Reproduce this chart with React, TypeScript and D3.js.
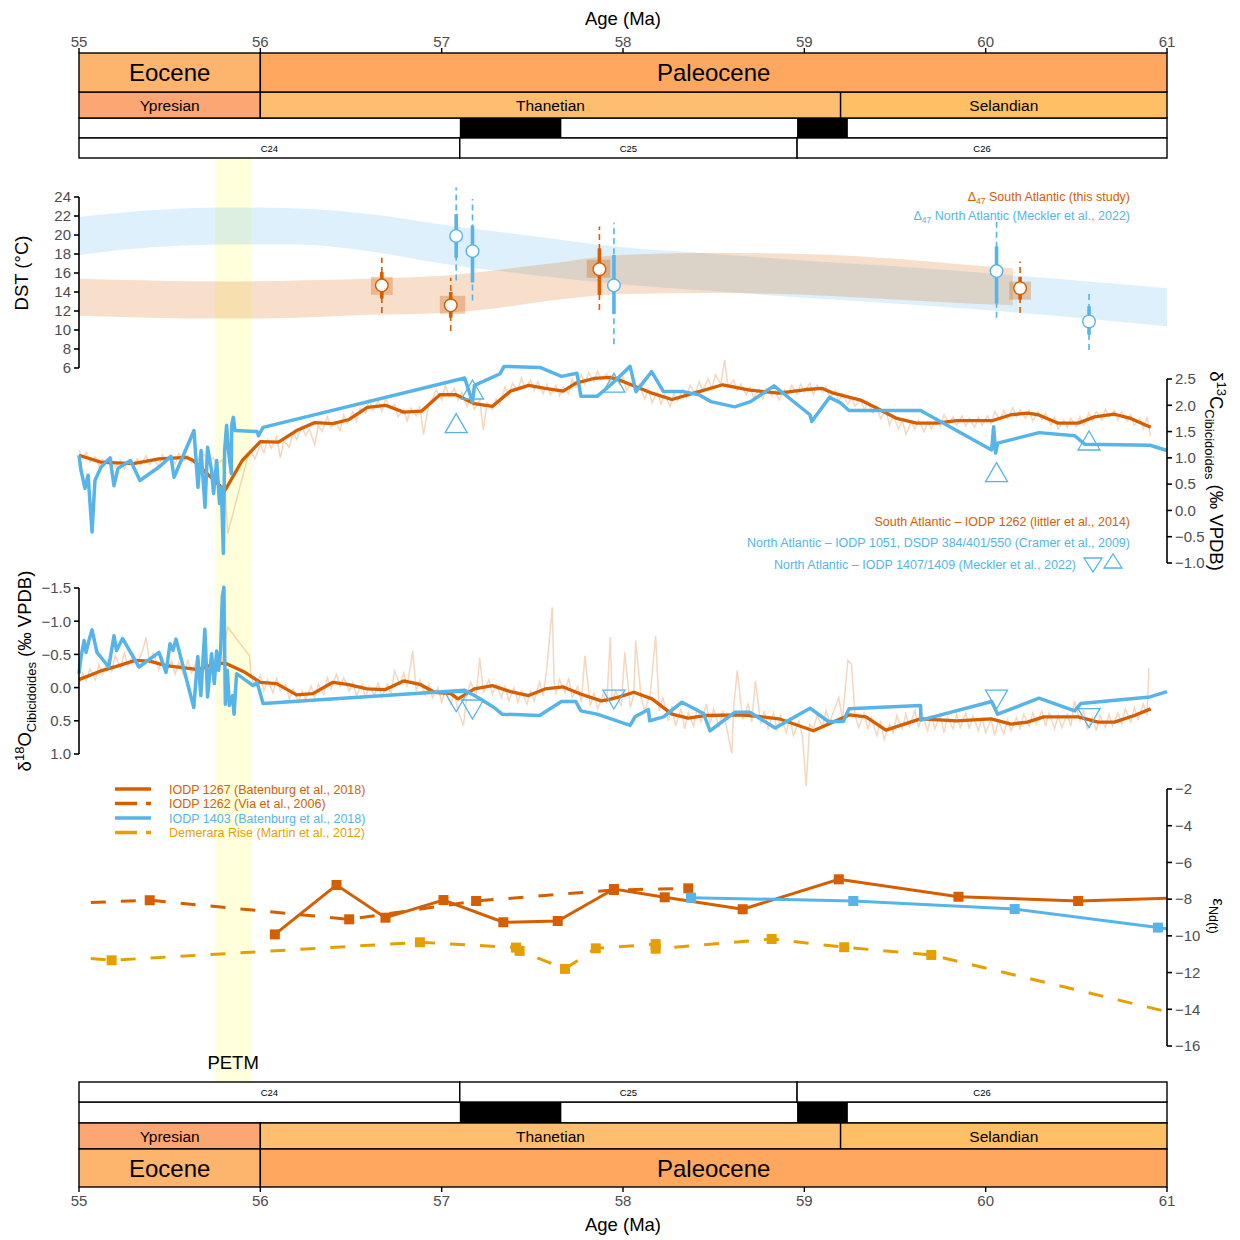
import React from "react";
import * as d3 from "d3";

type P = [number, number];

const FONT = "'Liberation Sans', Arial, Helvetica, sans-serif";
const ORANGE = "#D55E00";
const BLUE = "#56B4E9";
const YELLOW = "#E69F00";

// ---------- geological time scale ----------
const ageTicks = [55, 56, 57, 58, 59, 60, 61];
const epochNames = ["Eocene", "Paleocene"];
const epochBounds: P[] = [[55, 56], [56, 61]];
const epochColors = ["#FDB46C", "#FDA75F"];
const stageNames = ["Ypresian", "Thanetian", "Selandian"];
const stageBounds: P[] = [[55, 56], [56, 59.2], [59.2, 61]];
const stageColors = ["#FCA773", "#FDBF6F", "#FEBF65"];
const normalPolarity: P[] = [[57.1, 57.66], [58.96, 59.24]];
const chronNames = ["C24", "C25", "C26"];
const chronBounds: P[] = [[55, 57.1], [57.1, 58.96], [58.96, 61]];
const petm: P = [55.75, 55.95];

// ---------- DST (clumped isotopes) ----------
const dstTicks = [6, 8, 10, 12, 14, 16, 18, 20, 22, 24];
const northBandAge = [55.0, 55.4, 55.8, 56.2, 56.6, 57.0, 57.5, 58.0, 58.5, 59.0, 59.5, 60.0, 60.5, 61.0];
const northBandHi = [21.9, 22.6, 22.9, 22.8, 22.2, 21.1, 19.9, 18.7, 18.0, 17.3, 16.7, 16.0, 15.2, 14.4];
const northBandLo = [17.9, 18.7, 19.0, 19.0, 18.3, 17.0, 15.8, 14.8, 14.1, 13.4, 12.8, 12.1, 11.3, 10.4];
const southBandAge = [55.0, 55.4, 55.8, 56.2, 56.6, 57.0, 57.3, 57.6, 58.0, 58.5, 59.0, 59.5, 60.0, 60.15];
const southBandHi = [15.4, 15.2, 15.1, 15.2, 15.4, 15.7, 16.3, 17.0, 17.9, 18.1, 18.0, 17.5, 16.7, 16.5];
const southBandLo = [11.5, 11.3, 11.2, 11.3, 11.6, 11.8, 12.3, 13.1, 13.8, 13.9, 13.7, 13.2, 12.7, 12.6];

const dstSouthAge = [56.67, 57.05, 57.87, 60.19];
const dstSouthT = [14.7, 12.6, 16.4, 14.4];
const dstSouthCI68: P[] = [[13.3, 16.1], [11.3, 14.0], [13.7, 18.6], [13.2, 15.6]];
const dstSouthCI95: P[] = [[11.8, 17.6], [9.9, 15.5], [12.1, 20.9], [11.8, 17.2]];
const dstSouthAgeBox: P[] = [[56.61, 56.73], [56.99, 57.13], [57.8, 57.93], [60.13, 60.25]];
const dstSouthTBox: P[] = [[13.7, 15.6], [11.7, 13.6], [15.5, 17.4], [13.2, 15.1]];

const dstNorthAge = [57.08, 57.17, 57.95, 60.06, 60.57];
const dstNorthT = [19.9, 18.3, 14.7, 16.2, 10.9];
const dstNorthCI68: P[] = [[17.6, 22.2], [15.0, 21.0], [11.7, 17.9], [12.8, 18.8], [9.5, 12.5]];
const dstNorthCI95: P[] = [[15.2, 25.0], [13.1, 23.8], [8.5, 21.3], [11.3, 21.6], [7.9, 14.0]];

// ---------- benthic d13C ----------
const d13cTicks = [-1, -0.5, 0, 0.5, 1, 1.5, 2, 2.5];
const d13cSouthSmooth: P[] = [
  [55.0, 1.05], [55.12, 0.92], [55.3, 0.89], [55.44, 0.98], [55.59, 1.01], [55.63, 0.95], [55.805, 0.38],
  [55.9, 0.95], [56.0, 1.31], [56.1, 1.3], [56.2, 1.52], [56.3, 1.67], [56.4, 1.65], [56.49, 1.73],
  [56.59, 1.96], [56.69, 2.0], [56.79, 1.87], [56.89, 1.89], [56.99, 2.2], [57.08, 2.2], [57.18, 2.03],
  [57.28, 1.98], [57.38, 2.27], [57.48, 2.38], [57.57, 2.32], [57.67, 2.27], [57.74, 2.42], [57.84, 2.51],
  [57.93, 2.53], [57.98, 2.48], [58.16, 2.23], [58.27, 2.11], [58.42, 2.26], [58.55, 2.39], [58.7, 2.29],
  [58.86, 2.23], [59.01, 2.3], [59.1, 2.32], [59.16, 2.23], [59.31, 2.1], [59.42, 1.91], [59.51, 1.75],
  [59.62, 1.66], [59.73, 1.66], [59.84, 1.71], [60.04, 1.71], [60.14, 1.82], [60.23, 1.85], [60.29, 1.82],
  [60.4, 1.66], [60.51, 1.66], [60.6, 1.78], [60.71, 1.83], [60.8, 1.75], [60.91, 1.58]
];
const d13cNorth: P[] = [
  [55.0, 1.05], [55.011, 0.76], [55.033, 0.42], [55.05, 0.67], [55.072, -0.41], [55.088, 0.57], [55.121, 0.82],
  [55.171, 1.0], [55.193, 0.47], [55.215, 0.8], [55.284, 0.95], [55.336, 0.57], [55.447, 0.84], [55.507, 1.03],
  [55.524, 0.63], [55.634, 1.52], [55.656, 0.44], [55.673, 1.14], [55.695, 0.06], [55.709, 1.2], [55.731, 0.76],
  [55.742, 0.32], [55.759, 0.95], [55.775, 0.13], [55.785, 0.44], [55.796, -0.82], [55.803, 1.14], [55.814, 1.62],
  [55.824, 1.14], [55.84, 0.7], [55.842, 1.62], [55.851, 1.77], [55.86, 1.52], [55.982, 1.5], [55.99, 1.42],
  [56.015, 1.58], [57.127, 2.52], [57.17, 2.06], [57.181, 2.38], [57.322, 2.6], [57.344, 2.74], [57.542, 2.72],
  [57.661, 2.55], [57.746, 2.61], [57.768, 2.17], [57.857, 2.17], [57.939, 2.41], [58.039, 2.74], [58.072, 2.26],
  [58.158, 2.64], [58.223, 2.26], [58.331, 2.26], [58.419, 2.2], [58.485, 2.07], [58.616, 1.97], [58.703, 2.07],
  [58.833, 2.37], [59.031, 1.82], [59.041, 1.69], [59.139, 2.15], [59.202, 2.04], [59.246, 1.9], [59.641, 1.9],
  [60.033, 1.15], [60.044, 1.59], [60.055, 1.09], [60.066, 1.28], [60.294, 1.48], [60.491, 1.42], [60.546, 1.26],
  [60.906, 1.24], [61.0, 1.14]
];
const d13cMecklerAge = [57.08, 57.17, 57.95, 60.06, 60.57];
const d13cMeckler = [1.66, 2.3, 2.43, 0.73, 1.33];
const d13cSouthRaw: P[] = [
  [55.0, 1.15], [55.02, 0.98], [55.04, 1.1], [55.06, 0.92], [55.09, 1.02], [55.11, 0.85], [55.13, 0.97], [55.16, 0.88],
  [55.18, 1.0], [55.2, 0.82], [55.23, 0.95], [55.25, 0.78], [55.27, 0.92], [55.3, 0.84], [55.32, 0.98], [55.34, 0.86],
  [55.37, 1.04], [55.39, 0.88], [55.41, 0.97], [55.44, 0.85], [55.46, 1.06], [55.48, 0.92], [55.51, 1.02], [55.53, 0.88],
  [55.55, 1.08], [55.58, 0.95], [55.6, 1.04], [55.62, 0.9], [55.65, 1.02], [55.67, 0.92], [55.69, 1.06], [55.72, 0.95],
  [55.74, 1.0], [55.76, 0.88], [55.79, 0.96], [55.8, 0.7], [55.82, -0.44], [55.93, 1.01], [55.95, 1.12], [55.97, 0.98],
  [56.0, 1.25], [56.02, 1.1], [56.04, 1.35], [56.06, 1.18], [56.09, 1.4], [56.11, 1.0], [56.13, 1.32], [56.16, 1.2],
  [56.18, 1.48], [56.2, 1.35], [56.23, 1.6], [56.25, 1.42], [56.27, 1.55], [56.3, 1.25], [56.32, 1.62], [56.34, 1.5],
  [56.37, 1.78], [56.39, 1.58], [56.41, 1.7], [56.44, 1.52], [56.46, 1.82], [56.48, 1.65], [56.51, 1.88], [56.53, 1.7],
  [56.55, 1.95], [56.58, 1.85], [56.6, 2.1], [56.62, 1.9], [56.65, 2.08], [56.67, 1.88], [56.69, 2.12], [56.72, 1.95],
  [56.74, 2.02], [56.76, 1.78], [56.79, 1.92], [56.81, 1.7], [56.83, 1.95], [56.86, 1.8], [56.88, 1.98], [56.9, 1.44],
  [56.93, 2.05], [56.95, 2.12], [56.97, 2.3], [57.0, 2.1], [57.02, 2.38], [57.04, 2.18], [57.07, 2.32], [57.09, 2.1],
  [57.11, 2.25], [57.14, 1.98], [57.16, 2.15], [57.18, 1.92], [57.21, 2.1], [57.23, 1.53], [57.25, 2.05], [57.28, 1.92],
  [57.3, 2.12], [57.32, 2.02], [57.35, 2.35], [57.37, 2.18], [57.39, 2.42], [57.42, 2.28], [57.44, 2.52], [57.46, 2.32],
  [57.49, 2.48], [57.51, 2.28], [57.53, 2.45], [57.56, 2.22], [57.58, 2.4], [57.6, 2.2], [57.63, 2.38], [57.65, 2.18],
  [57.67, 2.35], [57.7, 2.22], [57.72, 2.5], [57.74, 2.35], [57.77, 2.58], [57.79, 2.4], [57.81, 2.62], [57.84, 2.45],
  [57.86, 2.65], [57.88, 2.48], [57.91, 2.6], [57.93, 2.42], [57.95, 2.58], [57.98, 2.4], [58.0, 2.55], [58.02, 2.28],
  [58.05, 2.45], [58.07, 2.25], [58.09, 2.4], [58.12, 2.12], [58.14, 2.3], [58.16, 2.05], [58.19, 2.25], [58.21, 2.02],
  [58.23, 2.2], [58.26, 1.98], [58.28, 2.22], [58.3, 2.08], [58.33, 2.3], [58.35, 2.15], [58.37, 2.38], [58.4, 2.22],
  [58.42, 2.45], [58.44, 2.28], [58.47, 2.5], [58.49, 2.32], [58.51, 2.58], [58.54, 2.4], [58.56, 2.86], [58.58, 2.35],
  [58.61, 2.48], [58.63, 2.28], [58.65, 2.4], [58.68, 2.2], [58.7, 2.35], [58.72, 2.15], [58.75, 2.3], [58.77, 2.12],
  [58.79, 2.32], [58.82, 2.18], [58.84, 2.28], [58.86, 2.1], [58.89, 2.3], [58.91, 2.18], [58.93, 2.38], [58.96, 2.22],
  [58.98, 2.4], [59.0, 2.25], [59.03, 2.42], [59.05, 2.2], [59.07, 2.38], [59.1, 2.25], [59.12, 2.35], [59.14, 2.15],
  [59.17, 2.28], [59.19, 2.08], [59.21, 2.22], [59.24, 2.02], [59.26, 2.15], [59.28, 1.98], [59.31, 2.12], [59.33, 1.92],
  [59.35, 2.05], [59.38, 1.85], [59.4, 1.98], [59.42, 1.75], [59.45, 1.9], [59.47, 1.62], [59.49, 1.8], [59.52, 1.55],
  [59.54, 1.72], [59.56, 1.45], [59.59, 1.68], [59.61, 1.55], [59.63, 1.72], [59.66, 1.5], [59.68, 1.68], [59.7, 1.55],
  [59.73, 1.75], [59.75, 1.6], [59.77, 1.82], [59.8, 1.65], [59.82, 1.78], [59.84, 1.62], [59.87, 1.8], [59.89, 1.6],
  [59.91, 1.75], [59.94, 1.58], [59.96, 1.78], [59.98, 1.62], [60.01, 1.8], [60.03, 1.65], [60.05, 1.88], [60.08, 1.72],
  [60.1, 1.9], [60.12, 1.75], [60.15, 1.95], [60.17, 1.78], [60.19, 1.92], [60.22, 1.75], [60.24, 1.9], [60.26, 1.7],
  [60.29, 1.88], [60.31, 1.72], [60.33, 1.85], [60.36, 1.62], [60.38, 1.78], [60.4, 1.55], [60.43, 1.72], [60.45, 1.58],
  [60.47, 1.75], [60.5, 1.6], [60.52, 1.78], [60.54, 1.62], [60.57, 1.85], [60.59, 1.7], [60.61, 1.88], [60.64, 1.72],
  [60.66, 1.92], [60.68, 1.78], [60.71, 1.9], [60.73, 1.72], [60.75, 1.88], [60.78, 1.7], [60.8, 1.82], [60.82, 1.62],
  [60.85, 1.75], [60.87, 1.55], [60.89, 1.78], [60.91, 1.42]
];

// ---------- benthic d18O ----------
const d18oTicks = [-1.5, -1, -0.5, 0, 0.5, 1];
const d18oSouthSmooth: P[] = [
  [55.0, -0.12], [55.13, -0.26], [55.22, -0.33], [55.31, -0.41], [55.39, -0.4], [55.48, -0.33], [55.57, -0.3],
  [55.66, -0.27], [55.74, -0.35], [55.805, -0.37], [55.915, -0.23], [56.0, -0.08], [56.09, -0.06], [56.2, 0.11],
  [56.29, 0.09], [56.4, -0.08], [56.48, -0.05], [56.59, 0.02], [56.69, 0.03], [56.79, -0.1], [56.88, -0.05],
  [56.96, 0.07], [57.05, 0.09], [57.09, 0.17], [57.18, 0.02], [57.28, -0.03], [57.38, 0.06], [57.48, 0.12],
  [57.57, 0.02], [57.67, -0.01], [57.77, 0.1], [57.88, 0.2], [57.92, 0.18], [57.98, 0.14], [58.06, 0.07],
  [58.16, 0.17], [58.27, 0.4], [58.36, 0.46], [58.46, 0.42], [58.64, 0.41], [58.7, 0.42], [58.86, 0.47],
  [59.05, 0.65], [59.25, 0.41], [59.34, 0.44], [59.45, 0.64], [59.64, 0.47], [59.84, 0.5], [60.03, 0.47],
  [60.14, 0.55], [60.23, 0.52], [60.32, 0.44], [60.51, 0.44], [60.62, 0.52], [60.71, 0.52], [60.82, 0.42],
  [60.91, 0.32]
];
const d18oNorth: P[] = [
  [55.0, -0.21], [55.011, -0.46], [55.028, -0.71], [55.039, -0.53], [55.055, -0.71], [55.072, -0.87], [55.099, -0.53],
  [55.164, -0.31], [55.193, -0.78], [55.207, -0.56], [55.24, -0.74], [55.331, -0.31], [55.441, -0.53], [55.48, -0.23],
  [55.502, -0.66], [55.518, -0.56], [55.535, -0.73], [55.633, 0.3], [55.655, -0.47], [55.672, 0.12], [55.694, -0.88],
  [55.709, 0.14], [55.731, -0.51], [55.746, -0.06], [55.759, -0.55], [55.77, -0.26], [55.781, -0.55], [55.79, -1.36],
  [55.799, -1.51], [55.807, 0.25], [55.818, -0.26], [55.829, 0.27], [55.847, 0.12], [55.855, 0.4], [55.869, -0.21],
  [55.96, -0.03], [55.982, -0.08], [56.015, 0.24], [57.127, 0.04], [57.2, 0.15], [57.289, 0.3], [57.333, 0.4],
  [57.54, 0.42], [57.66, 0.21], [57.74, 0.21], [57.768, 0.35], [57.857, 0.4], [58.039, 0.57], [58.066, 0.44],
  [58.14, 0.33], [58.147, 0.5], [58.223, 0.44], [58.325, 0.22], [58.444, 0.39], [58.48, 0.65], [58.618, 0.37],
  [58.7, 0.37], [58.839, 0.61], [59.031, 0.31], [59.132, 0.51], [59.215, 0.51], [59.246, 0.32], [59.641, 0.27],
  [59.643, 0.49], [60.033, 0.21], [60.066, 0.4], [60.294, 0.16], [60.491, 0.35], [60.524, 0.24], [60.906, 0.14],
  [61.0, 0.06]
];
const d18oMecklerAge = [57.08, 57.17, 57.95, 60.06, 60.57];
const d18oMeckler = [0.22, 0.33, 0.18, 0.18, 0.46];
const d18oSouthRaw: P[] = [
  [55.0, -0.05], [55.02, -0.22], [55.04, -0.1], [55.06, -0.28], [55.09, -0.12], [55.11, -0.35], [55.13, -0.2], [55.16, -0.42],
  [55.18, -0.25], [55.2, -0.48], [55.23, -0.3], [55.25, -0.52], [55.27, -0.32], [55.3, -0.5], [55.32, -0.35], [55.35, -0.55],
  [55.37, -0.76], [55.39, -0.38], [55.41, -0.52], [55.44, -0.28], [55.46, -0.45], [55.48, -0.22], [55.51, -0.4], [55.53, -0.2],
  [55.55, -0.38], [55.58, -0.18], [55.6, -0.42], [55.62, -0.22], [55.65, -0.4], [55.67, -0.2], [55.69, -0.35], [55.72, -0.25],
  [55.74, -0.45], [55.76, -0.28], [55.79, -0.4], [55.82, -0.91], [55.94, -0.48], [55.95, -0.15], [55.97, -0.02], [56.0, -0.18],
  [56.02, 0.05], [56.04, -0.12], [56.07, 0.08], [56.09, -0.15], [56.11, 0.05], [56.14, -0.05], [56.16, 0.18], [56.18, 0.02],
  [56.21, 0.22], [56.23, 0.05], [56.25, 0.18], [56.28, -0.02], [56.3, 0.15], [56.32, -0.05], [56.35, 0.1], [56.37, -0.15],
  [56.39, 0.02], [56.42, -0.2], [56.44, -0.02], [56.46, -0.15], [56.49, 0.05], [56.51, -0.08], [56.53, 0.12], [56.56, -0.05],
  [56.58, 0.15], [56.6, -0.02], [56.63, 0.12], [56.65, -0.08], [56.67, 0.15], [56.7, -0.05], [56.72, 0.1], [56.74, -0.25],
  [56.77, -0.05], [56.79, -0.22], [56.81, -0.02], [56.84, -0.55], [56.86, 0.05], [56.88, -0.12], [56.91, 0.12], [56.93, -0.05],
  [56.95, 0.15], [56.98, 0.0], [57.0, 0.22], [57.02, 0.05], [57.05, 0.25], [57.07, 0.08], [57.09, 0.35], [57.12, 0.57],
  [57.14, 0.1], [57.16, -0.08], [57.19, 0.12], [57.21, -0.45], [57.23, 0.08], [57.26, -0.12], [57.28, 0.1], [57.3, -0.05],
  [57.33, 0.15], [57.35, -0.02], [57.37, 0.2], [57.4, 0.0], [57.42, 0.22], [57.44, 0.05], [57.47, 0.25], [57.49, 0.05],
  [57.51, 0.2], [57.54, -0.08], [57.56, 0.12], [57.58, -0.3], [57.61, -1.21], [57.62, -0.1], [57.63, 0.1], [57.65, -0.12],
  [57.68, 0.08], [57.7, -0.15], [57.72, 0.15], [57.75, -0.02], [57.77, 0.22], [57.79, -0.48], [57.82, 0.28], [57.84, 0.08],
  [57.86, 0.32], [57.89, 0.1], [57.91, 0.25], [57.93, -0.76], [57.94, 0.2], [57.96, 0.05], [57.99, 0.28], [58.01, -0.53],
  [58.04, 0.3], [58.06, 0.1], [58.07, -0.71], [58.1, 0.15], [58.12, 0.35], [58.15, 0.1], [58.18, -0.78], [58.2, 0.35],
  [58.22, 0.15], [58.25, 0.5], [58.27, 0.28], [58.29, 0.58], [58.32, 0.32], [58.34, 0.62], [58.36, 0.38], [58.39, 0.58],
  [58.41, 0.3], [58.43, 0.52], [58.46, 0.25], [58.48, 0.55], [58.5, 0.32], [58.53, 0.6], [58.55, 0.35], [58.57, 0.58],
  [58.6, 0.99], [58.61, 0.3], [58.63, -0.26], [58.66, 0.48], [58.69, 0.25], [58.71, 0.52], [58.73, -0.1], [58.76, 0.55],
  [58.78, 0.35], [58.8, 0.62], [58.83, 0.38], [58.85, 0.65], [58.87, 0.42], [58.9, 0.68], [58.92, 0.45], [58.94, 0.72],
  [58.97, 0.5], [58.99, 0.75], [59.01, 1.48], [59.03, 0.55], [59.05, 0.62], [59.07, 0.42], [59.1, 0.58], [59.12, 0.35],
  [59.14, 0.52], [59.17, 0.3], [59.19, 0.15], [59.21, 0.48], [59.24, -0.41], [59.26, -0.35], [59.28, 0.42], [59.3, 0.6],
  [59.33, 0.38], [59.35, 0.62], [59.37, 0.45], [59.4, 0.72], [59.42, 0.5], [59.44, 0.78], [59.47, 0.55], [59.49, 0.68],
  [59.51, 0.42], [59.54, 0.62], [59.56, 0.4], [59.58, 0.58], [59.61, 0.35], [59.63, 0.6], [59.65, 0.4], [59.68, 0.65],
  [59.7, 0.42], [59.72, 0.62], [59.75, 0.4], [59.77, 0.68], [59.79, 0.45], [59.82, 0.62], [59.84, 0.4], [59.86, 0.6],
  [59.89, 0.38], [59.91, 0.62], [59.93, 0.42], [59.96, 0.65], [59.98, 0.45], [60.0, 0.68], [60.03, 0.48], [60.05, 0.72],
  [60.07, 0.5], [60.1, 0.7], [60.12, 0.48], [60.14, 0.65], [60.17, 0.45], [60.19, 0.62], [60.21, 0.4], [60.24, 0.58],
  [60.26, 0.38], [60.28, 0.55], [60.31, 0.35], [60.33, 0.58], [60.35, 0.38], [60.38, 0.62], [60.4, 0.42], [60.42, 0.6],
  [60.45, 0.4], [60.47, 0.58], [60.49, 0.2], [60.52, 0.5], [60.54, 0.35], [60.56, 0.62], [60.59, 0.45], [60.61, 0.65],
  [60.63, 0.42], [60.66, 0.6], [60.68, 0.4], [60.7, 0.58], [60.73, 0.38], [60.75, 0.55], [60.77, 0.32], [60.8, 0.52],
  [60.82, 0.3], [60.84, 0.48], [60.87, 0.25], [60.89, 0.42], [60.9, -0.29]
];

// ---------- Nd isotopes ----------
const ndTicks = [-2, -4, -6, -8, -10, -12, -14, -16];
const nd1267: P[] = [
  [56.08, -9.92], [56.42, -7.23], [56.69, -9.01], [57.01, -8.05], [57.34, -9.26], [57.64, -9.19], [57.95, -7.45],
  [58.23, -7.9], [58.66, -8.55], [59.19, -6.92], [59.85, -7.87], [60.51, -8.1], [61.3, -7.86]
];
const nd1262: P[] = [[54.9, -8.24], [55.39, -8.06], [56.49, -9.1], [57.19, -8.1], [57.95, -7.5], [58.36, -7.41]];
const nd1403: P[] = [[58.375, -7.92], [59.27, -8.1], [60.16, -8.54], [60.95, -9.55], [61.2, -9.87]];
const ndDemerara: P[] = [
  [54.9, -11.08], [55.18, -11.33], [56.88, -10.35], [57.41, -10.64], [57.43, -10.82], [57.68, -11.8], [57.85, -10.68],
  [58.18, -10.45], [58.18, -10.7], [58.82, -10.17], [59.22, -10.62], [59.7, -11.04], [61.1, -14.37]
];

// ---------- scales ----------
const x = d3.scaleLinear().domain([55, 61]).range([79, 1167]);
const yDst = d3.scaleLinear().domain([6, 24]).range([368, 197]);
const yC = d3.scaleLinear().domain([-1, 2.5]).range([563, 379]);
const yO = d3.scaleLinear().domain([-1.5, 1]).range([588, 754]);
const yNd = d3.scaleLinear().domain([-2, -16]).range([789, 1046]);

const fmt1 = (v: number) => (v < 0 ? "\u2212" : "") + Math.abs(v).toFixed(1);
const fmt0 = (v: number) => (v < 0 ? "\u2212" : "") + Math.abs(v).toFixed(0);

const lineOf = (ys: d3.ScaleLinear<number, number>) =>
  d3.line<P>().x(d => x(d[0])).y(d => ys(d[1]));

const TICK_COLOR = "#4D4D4D";
const TICK_SIZE = 15;

function AxisV({ scale, ticks, xPos, side, fmt }: {
  scale: d3.ScaleLinear<number, number>; ticks: number[]; xPos: number; side: "left" | "right"; fmt: (v: number) => string;
}) {
  const [a, b] = d3.extent(ticks) as [number, number];
  const dir = side === "left" ? -1 : 1;
  return (
    <g>
      <line x1={xPos} x2={xPos} y1={scale(a)} y2={scale(b)} stroke="#000" strokeWidth={1.6} />
      {ticks.map(t => (
        <g key={t}>
          <line x1={xPos} x2={xPos + dir * 5} y1={scale(t)} y2={scale(t)} stroke="#000" strokeWidth={1.6} />
          <text x={xPos + dir * 8} y={scale(t) + 5.3} textAnchor={side === "left" ? "end" : "start"}
            fontSize={TICK_SIZE} fill={TICK_COLOR}>{fmt(t)}</text>
        </g>
      ))}
    </g>
  );
}

function TimeScale({ epochY, stageY, polY, chronY, tickY, labelY, titleY }: {
  epochY: P; stageY: P; polY: P; chronY: P; tickY: P; labelY: number; titleY: number;
}) {
  const box = (a: P, y: P, fill: string, key: string) => (
    <rect key={key} x={x(a[0])} y={y[0]} width={x(a[1]) - x(a[0])} height={y[1] - y[0]}
      fill={fill} stroke="#000" strokeWidth={1.4} />
  );
  return (
    <g>
      <rect x={x(55)} y={polY[0]} width={x(61) - x(55)} height={polY[1] - polY[0]} fill="#fff" stroke="#000" strokeWidth={1.4} />
      {normalPolarity.map((p, i) => (
        <rect key={i} x={x(p[0])} y={polY[0]} width={x(p[1]) - x(p[0])} height={polY[1] - polY[0]} fill="#000" />
      ))}
      {chronBounds.map((c, i) => box(c, chronY, "#fff", "c" + i))}
      {chronNames.map((n, i) => (
        <text key={n} x={(x(chronBounds[i][0]) + x(chronBounds[i][1])) / 2} y={(chronY[0] + chronY[1]) / 2 + 3.5}
          textAnchor="middle" fontSize={9.5}>{n}</text>
      ))}
      {stageBounds.map((s, i) => box(s, stageY, stageColors[i], "s" + i))}
      {stageNames.map((n, i) => (
        <text key={n} x={(x(stageBounds[i][0]) + x(stageBounds[i][1])) / 2} y={(stageY[0] + stageY[1]) / 2 + 5.5}
          textAnchor="middle" fontSize={15.5}>{n}</text>
      ))}
      {epochBounds.map((e, i) => box(e, epochY, epochColors[i], "e" + i))}
      {epochNames.map((n, i) => (
        <text key={n} x={(x(epochBounds[i][0]) + x(epochBounds[i][1])) / 2} y={(epochY[0] + epochY[1]) / 2 + 8.5}
          textAnchor="middle" fontSize={24}>{n}</text>
      ))}
      {ageTicks.map(t => (
        <g key={t}>
          <line x1={x(t)} x2={x(t)} y1={tickY[0]} y2={tickY[1]} stroke="#000" strokeWidth={1.4} />
          <text x={x(t)} y={labelY} textAnchor="middle" fontSize={TICK_SIZE} fill={TICK_COLOR}>{t}</text>
        </g>
      ))}
      <text x={(x(55) + x(61)) / 2} y={titleY} textAnchor="middle" fontSize={18.5}>Age (Ma)</text>
    </g>
  );
}

const triPath = (cx: number, cy: number, up: boolean, w = 22, h = 19) =>
  up
    ? `M${cx - w / 2},${cy + h / 2}L${cx + w / 2},${cy + h / 2}L${cx},${cy - h / 2}Z`
    : `M${cx - w / 2},${cy - h / 2}L${cx + w / 2},${cy - h / 2}L${cx},${cy + h / 2}Z`;

function band(ages: number[], lo: number[], hi: number[]) {
  const rows = ages.map((a, i) => [a, lo[i], hi[i]] as [number, number, number]);
  return d3.area<[number, number, number]>()
    .x(d => x(d[0])).y0(d => yDst(d[1])).y1(d => yDst(d[2]))
    .curve(d3.curveMonotoneX)(rows) || "";
}

function DstPanel() {
  return (
    <g>
      <path d={band(northBandAge, northBandLo, northBandHi)} fill={BLUE} fillOpacity={0.2} />
      <path d={band(southBandAge, southBandLo, southBandHi)} fill={ORANGE} fillOpacity={0.2} />
      {dstSouthAgeBox.map((b, i) => (
        <rect key={i} x={x(b[0])} y={yDst(dstSouthTBox[i][1])} width={x(b[1]) - x(b[0])}
          height={yDst(dstSouthTBox[i][0]) - yDst(dstSouthTBox[i][1])} fill={ORANGE} fillOpacity={0.3} />
      ))}
      {[
        { age: dstNorthAge, t: dstNorthT, c68: dstNorthCI68, c95: dstNorthCI95, col: BLUE },
        { age: dstSouthAge, t: dstSouthT, c68: dstSouthCI68, c95: dstSouthCI95, col: ORANGE }
      ].map((s, k) => (
        <g key={k}>
          {s.age.map((a, i) => (
            <g key={i}>
              <line x1={x(a)} x2={x(a)} y1={yDst(s.c95[i][0])} y2={yDst(s.c95[i][1])} stroke={s.col}
                strokeWidth={1.6} strokeDasharray="6 4" />
              <line x1={x(a)} x2={x(a)} y1={yDst(s.c68[i][0])} y2={yDst(s.c68[i][1])} stroke={s.col} strokeWidth={3.6} />
              <circle cx={x(a)} cy={yDst(s.t[i])} r={6.3} fill="#fff" stroke={s.col} strokeWidth={1.4} />
            </g>
          ))}
        </g>
      ))}
      <text x={1130} y={200.5} textAnchor="end" fontSize={12.5} fill={ORANGE}>
        {"\u0394"}<tspan fontSize={8.5} dy={3}>47</tspan><tspan dy={-3}> South Atlantic (this study)</tspan>
      </text>
      <text x={1130} y={219.5} textAnchor="end" fontSize={12.5} fill={BLUE}>
        {"\u0394"}<tspan fontSize={8.5} dy={3}>47</tspan><tspan dy={-3}> North Atlantic (Meckler et al., 2022)</tspan>
      </text>
      <AxisV scale={yDst} ticks={dstTicks} xPos={79} side="left" fmt={fmt0} />
      <text transform="translate(28,273) rotate(-90)" textAnchor="middle" fontSize={18.5}>DST (°C)</text>
    </g>
  );
}

function CarbonPanel() {
  const l = lineOf(yC);
  return (
    <g>
      <path d={l(d13cSouthRaw) || ""} fill="none" stroke={ORANGE} strokeOpacity={0.25} strokeWidth={1.5} />
      <path d={l(d13cSouthSmooth) || ""} fill="none" stroke={ORANGE} strokeWidth={3.3} strokeLinejoin="round" />
      <path d={l(d13cNorth) || ""} fill="none" stroke={BLUE} strokeWidth={3.5} strokeLinejoin="round" />
      {d13cMecklerAge.map((a, i) => (
        <path key={i} d={triPath(x(a), yC(d13cMeckler[i]), true)} fill="none" stroke={BLUE} strokeWidth={1.3} />
      ))}
      <text x={1130} y={525.5} textAnchor="end" fontSize={12.5} fill={ORANGE}>
        South Atlantic – IODP 1262 (littler et al., 2014)</text>
      <text x={1130} y={546.5} textAnchor="end" fontSize={12.5} fill={BLUE}>
        North Atlantic – IODP 1051, DSDP 384/401/550 (Cramer et al., 2009)</text>
      <text x={1076} y={568.5} textAnchor="end" fontSize={12.5} fill={BLUE}>
        North Atlantic – IODP 1407/1409 (Meckler et al., 2022)</text>
      <path d={triPath(1093, 565, false, 18, 14)} fill="none" stroke={BLUE} strokeWidth={1.3} />
      <path d={triPath(1113, 561, true, 18, 14)} fill="none" stroke={BLUE} strokeWidth={1.3} />
      <AxisV scale={yC} ticks={d13cTicks} xPos={1167} side="right" fmt={fmt1} />
      <text transform="translate(1210,471) rotate(90)" textAnchor="middle" fontSize={18.5}>
        δ<tspan fontSize={13} dy={-7}>13</tspan><tspan dy={7}>C</tspan>
        <tspan fontSize={13} dy={5}>Cibicidoides</tspan><tspan dy={-5}> (‰ VPDB)</tspan>
      </text>
    </g>
  );
}

function OxygenPanel() {
  const l = lineOf(yO);
  return (
    <g>
      <path d={l(d18oSouthRaw) || ""} fill="none" stroke={ORANGE} strokeOpacity={0.25} strokeWidth={1.5} />
      <path d={l(d18oSouthSmooth) || ""} fill="none" stroke={ORANGE} strokeWidth={3.3} strokeLinejoin="round" />
      <path d={l(d18oNorth) || ""} fill="none" stroke={BLUE} strokeWidth={3.5} strokeLinejoin="round" />
      {d18oMecklerAge.map((a, i) => (
        <path key={i} d={triPath(x(a), yO(d18oMeckler[i]), false)} fill="none" stroke={BLUE} strokeWidth={1.3} />
      ))}
      <AxisV scale={yO} ticks={d18oTicks} xPos={79} side="left" fmt={fmt1} />
      <text transform="translate(31,671) rotate(-90)" textAnchor="middle" fontSize={18.5}>
        δ<tspan fontSize={13} dy={-7}>18</tspan><tspan dy={7}>O</tspan>
        <tspan fontSize={13} dy={5}>Cibicidoides</tspan><tspan dy={-5}> (‰ VPDB)</tspan>
      </text>
    </g>
  );
}

function NdPanel() {
  const l = lineOf(yNd);
  const series = [
    { d: nd1262, col: ORANGE, dash: "15 15", name: "IODP 1262 (Via et al., 2006)" },
    { d: ndDemerara, col: YELLOW, dash: "15 15", name: "Demerara Rise (Martin et al., 2012)" },
    { d: nd1267, col: ORANGE, dash: "", name: "IODP 1267 (Batenburg et al., 2018)" },
    { d: nd1403, col: BLUE, dash: "", name: "IODP 1403 (Batenburg et al., 2018)" }
  ];
  const legendOrder = [2, 0, 3, 1];
  const legendY = [789, 803.5, 818, 832.5];
  return (
    <g>
      <g clipPath="url(#plotClip)">
        {series.map((s, k) => (
          <g key={k}>
            <path d={l(s.d) || ""} fill="none" stroke={s.col} strokeWidth={3} strokeDasharray={s.dash || undefined} />
            {s.d.filter(p => p[0] > 55 && p[0] < 61).map((p, i) => (
              <rect key={i} x={x(p[0]) - 5} y={yNd(p[1]) - 5} width={10} height={10} fill={s.col} />
            ))}
          </g>
        ))}
      </g>
      {legendOrder.map((k, i) => (
        <g key={k}>
          <line x1={115} x2={151} y1={legendY[i]} y2={legendY[i]} stroke={series[k].col} strokeWidth={3.5}
            strokeDasharray={series[k].dash ? "22 9" : undefined} />
          <text x={169} y={legendY[i] + 4.5} fontSize={12.5} fill={series[k].col}>{series[k].name}</text>
        </g>
      ))}
      <AxisV scale={yNd} ticks={ndTicks} xPos={1167} side="right" fmt={fmt0} />
      <text transform="translate(1213,916) rotate(90)" textAnchor="middle" fontSize={17}>
        ε<tspan fontSize={12.5} dy={4}>Nd(t)</tspan>
      </text>
    </g>
  );
}

export default function App() {
  return (
    <div style={{ position: "absolute", left: 0, top: 0 }}>
      <svg width={1240} height={1240} style={{ display: "block", background: "#fff" }} fontFamily={FONT}>
        <defs>
          <clipPath id="plotClip">
            <rect x={79} y={0} width={1088} height={1240} />
          </clipPath>
        </defs>
        <rect x={x(petm[0])} y={158} width={x(petm[1]) - x(petm[0])} height={1082 - 158} fill="#FFFFDC" />
        <TimeScale epochY={[53, 92]} stageY={[92, 118]} polY={[118, 138]} chronY={[138, 158]}
          tickY={[48, 53]} labelY={46.5} titleY={24.5} />
        <DstPanel />
        <CarbonPanel />
        <OxygenPanel />
        <NdPanel />
        <TimeScale epochY={[1149, 1187]} stageY={[1123, 1149]} polY={[1102, 1123]} chronY={[1082, 1102]}
          tickY={[1187, 1192]} labelY={1206} titleY={1230.5} />
        <text x={(x(petm[0]) + x(petm[1])) / 2} y={1068.5} textAnchor="middle" fontSize={18.5}>PETM</text>
      </svg>
    </div>
  );
}
